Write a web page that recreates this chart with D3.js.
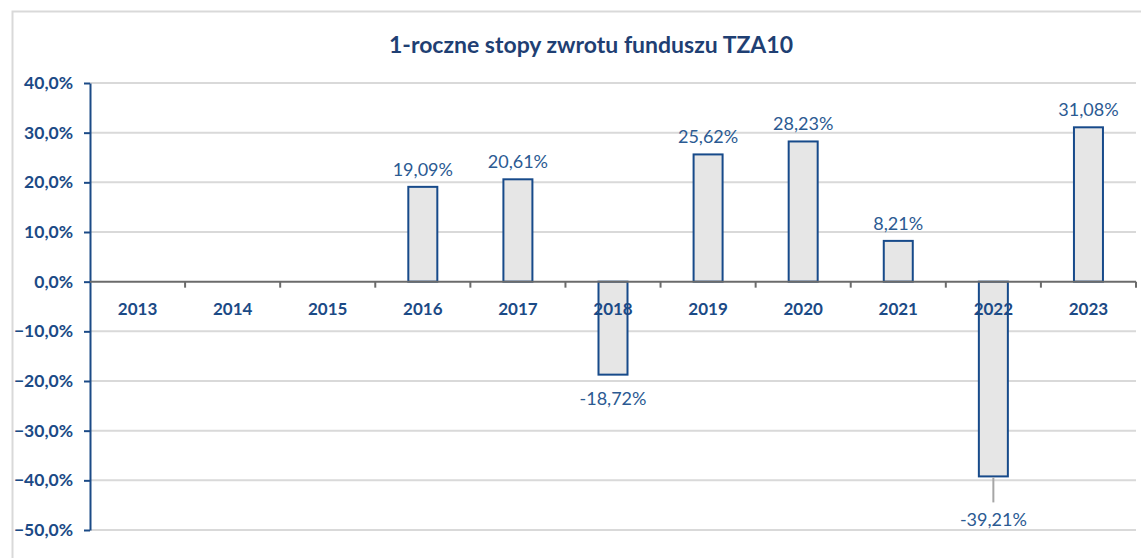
<!DOCTYPE html>
<html>
<head>
<meta charset="utf-8">
<script src="https://cdn.jsdelivr.net/npm/d3@7"></script>
<style>
  body { margin: 0; background: #fff; }
  svg { display: block; }
</style>
</head>
<body>
<div id="chart"></div>
<script>
// values
var years = ['2013', '2014', '2015', '2016', '2017', '2018', '2019', '2020', '2021', '2022', '2023'];
var returns = [null, null, null, 19.09, 20.61, -18.72, 25.62, 28.23, 8.21, -39.21, 31.08];
var yTicks = [40, 30, 20, 10, 0, -10, -20, -30, -40, -50];
var title = '1-roczne stopy zwrotu funduszu TZA10';

var W = 1141, H = 558;
var blue = '#1b4a86';
var fontB = 'Lato, "Open Sans", sans-serif';

var svg = d3.select('#chart')
  .append('svg')
  .attr('width', W)
  .attr('height', H);

// outer chart frame
svg.append('rect')
  .attr('x', 12.5).attr('y', 11.5)
  .attr('width', W + 20).attr('height', H + 20)
  .style('fill', 'none')
  .style('stroke', '#d9d9d9')
  .style('stroke-width', 2);

var x = d3.scaleBand().domain(years).range([90, 1136]);
var y = d3.scaleLinear().domain([-50, 40]).range([530, 83]);

svg.append('text')
  .text(title)
  .attr('x', 591).attr('y', 53)
  .attr('text-anchor', 'middle')
  .style('font-family', fontB)
  .style('font-weight', 'bold')
  .style('font-size', '23px')
  .style('fill', '#1f3f73');

// gridlines
svg.append('g')
  .selectAll('line')
  .data(yTicks.filter(function (d) { return d !== 0; }))
  .join('line')
  .attr('x1', 90).attr('x2', 1136)
  .attr('y1', function (d) { return y(d); })
  .attr('y2', function (d) { return y(d); })
  .style('stroke', '#d9d9d9')
  .style('stroke-width', 2);

// y axis
var yAxis = svg.append('g')
  .attr('transform', 'translate(90,0)')
  .call(d3.axisLeft(y)
    .tickValues(yTicks)
    .tickSize(6)
    .tickSizeOuter(0)
    .tickFormat(function (d) { return d3.format('.1f')(d).replace('.', ',') + '%'; }));
yAxis.select('.domain').style('stroke', blue).style('stroke-width', 2);
yAxis.selectAll('.tick line').style('stroke', blue).style('stroke-width', 2);
yAxis.selectAll('.tick text')
  .attr('x', -17)
  .style('font-family', fontB)
  .style('font-weight', 'bold')
  .style('font-size', '17.5px')
  .style('fill', blue);

// bars
var data = years.map(function (d, i) { return { year: d, v: returns[i] }; })
  .filter(function (d) { return d.v !== null; });
var bw = 29;

svg.append('g')
  .selectAll('rect')
  .data(data)
  .join('rect')
  .attr('x', function (d) { return x(d.year) + x.bandwidth() / 2 - bw / 2; })
  .attr('y', function (d) { return y(Math.max(0, d.v)); })
  .attr('width', bw)
  .attr('height', function (d) { return Math.abs(y(d.v) - y(0)); })
  .style('fill', '#e6e6e6')
  .style('stroke', '#174a8a')
  .style('stroke-width', 2);

// zero line + category ticks
svg.append('line')
  .attr('x1', 90).attr('x2', 1136)
  .attr('y1', y(0)).attr('y2', y(0))
  .style('stroke', '#6b6b6b')
  .style('stroke-width', 2);
svg.append('g')
  .selectAll('line')
  .data(years.slice(1).concat(['end']))
  .join('line')
  .attr('x1', function (d) { return d === 'end' ? 1136 : x(d); })
  .attr('x2', function (d) { return d === 'end' ? 1136 : x(d); })
  .attr('y1', y(0)).attr('y2', y(0) + 6)
  .style('stroke', '#6b6b6b')
  .style('stroke-width', 2);

// category labels
svg.append('g')
  .selectAll('text')
  .data(years)
  .join('text')
  .text(function (d) { return d; })
  .attr('x', function (d) { return x(d) + x.bandwidth() / 2; })
  .attr('y', y(0) + 33)
  .attr('text-anchor', 'middle')
  .style('font-family', fontB)
  .style('font-weight', 'bold')
  .style('font-size', '17px')
  .style('fill', blue);

// data labels
var fmt = function (v) { return d3.format('.2f')(v).replace('.', ',').replace('−', '-') + '%'; };
svg.append('g')
  .selectAll('text')
  .data(data)
  .join('text')
  .text(function (d) { return fmt(d.v); })
  .attr('x', function (d) { return x(d.year) + x.bandwidth() / 2; })
  .attr('y', function (d) {
    if (d.v >= 0) return y(d.v) - 11;
    return d.year === '2022' ? y(d.v) + 50 : y(d.v) + 30;
  })
  .attr('text-anchor', 'middle')
  .style('font-family', fontB)
  .style('font-size', '18px')
  .style('fill', '#2b5a92');

// leader line for 2022
var d22 = data.filter(function (d) { return d.year === '2022'; })[0];
svg.append('line')
  .attr('x1', x('2022') + x.bandwidth() / 2).attr('x2', x('2022') + x.bandwidth() / 2)
  .attr('y1', y(d22.v) + 1).attr('y2', y(d22.v) + 26)
  .style('stroke', '#a6a6a6')
  .style('stroke-width', 2);
</script>
</body>
</html>
